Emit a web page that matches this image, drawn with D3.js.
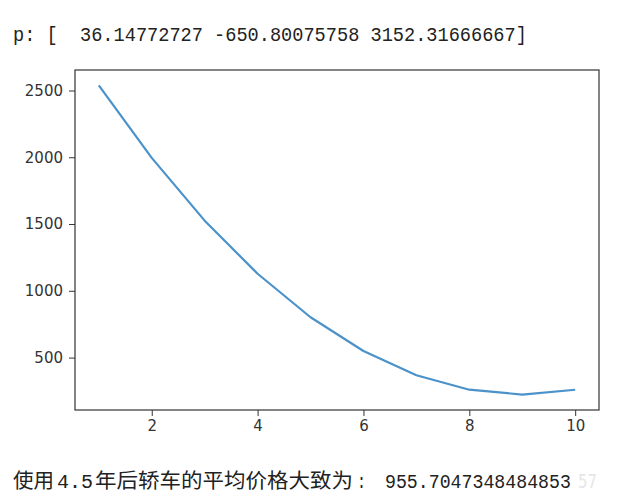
<!DOCTYPE html>
<html><head><meta charset="utf-8">
<script src="https://cdn.jsdelivr.net/npm/d3@7/dist/d3.min.js"></script>
<style>
body{margin:0;background:#fff;}
svg{display:block;}
</style></head>
<body>
<script>
const years = [1,2,3,4,5,6,7,8,9,10];
const prices = [2537.66, 1995.31, 1525.25, 1127.48, 802.00, 548.83, 367.95, 259.36, 223.08, 259.08];
const xTicks = [2,4,6,8,10];
const yTicks = [500,1000,1500,2000,2500];
const headerText = "p: [  36.14772727 -650.80075758 3152.31666667]";
const footerCJK1 = "使用";
const footerNum1 = "4.5";
const footerCJK2 = "年后轿车的平均价格大致为";
const footerColon = ":";
const footerNum2 = "955.7047348484853";
const watermark = "57";

(function(){
const W = 617, H = 503;
const svg = d3.select("body").append("svg").attr("width", W).attr("height", H);

const mL = 75, mR = 599, mT = 70, mB = 410;
const x = d3.scaleLinear().domain([0.55, 10.45]).range([mL, mR]);
const y = d3.scaleLinear().domain([107.35, 2653.4]).range([mB, mT]);

const mono = "Liberation Mono, DejaVu Sans Mono, monospace";
const cjk = "Noto Sans CJK SC, sans-serif";

// text squeezed horizontally to a target width
function seg(txt, x0, y0, len, fam, size, col){
  const t = svg.append("text").attr("x", 0).attr("y", 0)
    .attr("font-family", fam).attr("font-size", size).attr("fill", col || "#222")
    .attr("xml:space", "preserve").style("white-space", "pre")
    .text(txt);
  const nat = t.node().getComputedTextLength() || len;
  t.attr("transform", `translate(${x0},${y0}) scale(${len/nat},1)`);
  return t;
}

// header
seg(headerText, 13, 41, 514, mono, 20.5);

// axes
const axX = svg.append("g").attr("transform", `translate(0,${mB})`)
  .call(d3.axisBottom(x).tickValues(xTicks).tickSize(6).tickPadding(4).tickFormat(d3.format("d")));
const axY = svg.append("g").attr("transform", `translate(${mL},0)`)
  .call(d3.axisLeft(y).tickValues(yTicks).tickSize(6).tickPadding(6).tickFormat(d3.format("d")));
[axX, axY].forEach(a => {
  a.select(".domain").remove();
  a.selectAll("line").attr("stroke", "#333").attr("stroke-width", 1);
  a.selectAll("text").attr("font-family", "DejaVu Sans, sans-serif").attr("font-size", 15).attr("fill", "#333");
});

// frame
svg.append("rect").attr("x", mL).attr("y", mT).attr("width", mR-mL).attr("height", mB-mT)
  .attr("fill", "none").attr("stroke", "#333").attr("stroke-width", 1.2);

// line
svg.append("path").datum(years.map((d,i)=>[d, prices[i]]))
  .attr("fill", "none").attr("stroke", "#4a92c9").attr("stroke-width", 2.2)
  .attr("stroke-linejoin", "round")
  .attr("d", d3.line().x(d=>x(d[0])).y(d=>y(d[1])));

// footer
const fy = 488;
seg(footerCJK1, 13, fy, 41, cjk, 20.5);
seg(footerNum1, 57, fy, 36, mono, 21);
seg(footerCJK2, 95, fy, 258, cjk, 20.5);
seg(footerColon, 357, fy, 9, mono, 21);
seg(footerNum2, 385, fy, 186, mono, 21);
seg(watermark, 578, fy, 19, "DejaVu Sans, sans-serif", 19, "#e6e6e6");
})();
</script>
</body></html>
